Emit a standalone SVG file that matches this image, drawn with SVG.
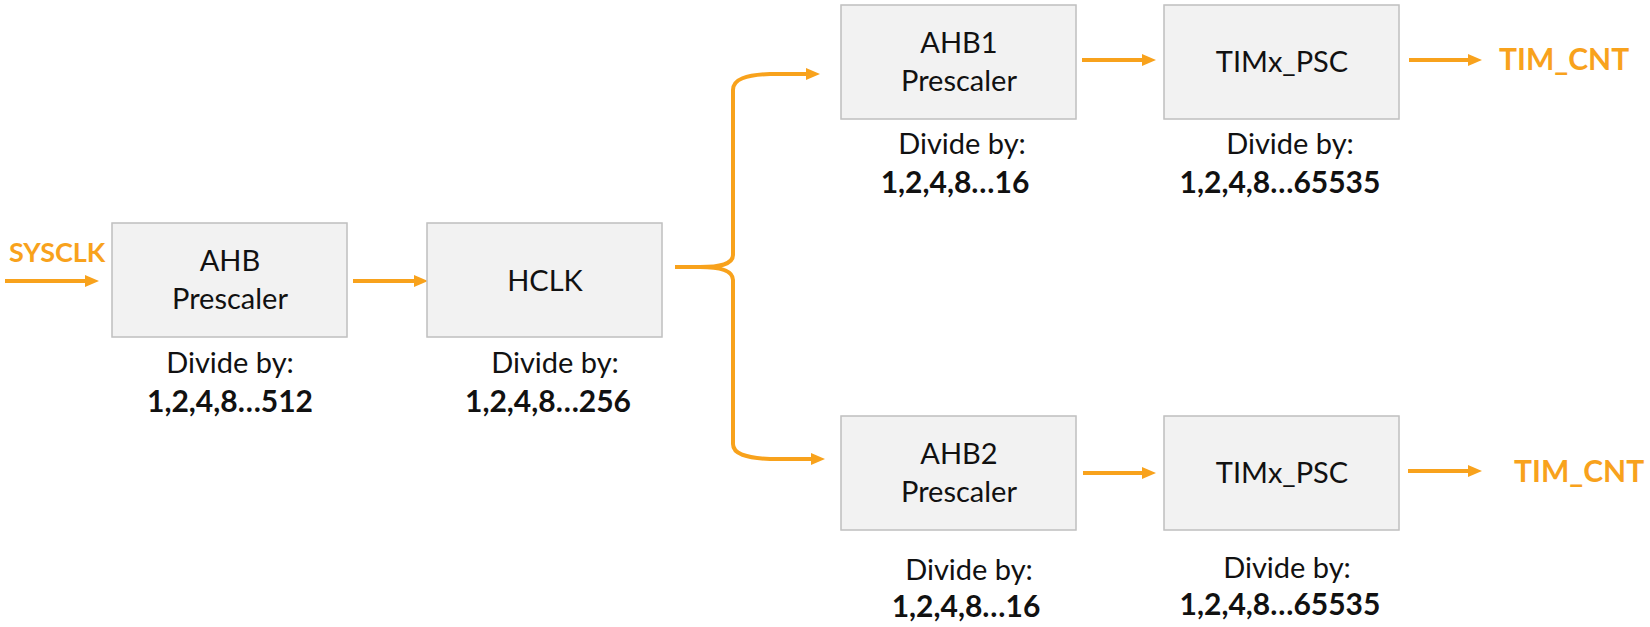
<svg xmlns="http://www.w3.org/2000/svg" width="1650" height="627" viewBox="0 0 1650 627">
<defs>
<style>
.box{fill:#F2F2F2;stroke:#BFBFBF;stroke-width:1.5}
.t{font-family:Lato,"Liberation Sans",sans-serif;font-size:29px;fill:#111;text-anchor:middle}
.b{font-family:Lato,"Liberation Sans",sans-serif;font-size:30px;font-weight:bold;fill:#111;text-anchor:middle}
.o{font-family:Lato,"Liberation Sans",sans-serif;font-size:30px;font-weight:bold;fill:#F8A21C}
.c{fill:none;stroke:#F8A21C;stroke-width:4}
</style>
<marker id="ah" markerUnits="userSpaceOnUse" markerWidth="14" markerHeight="12" refX="2" refY="6" orient="auto">
<path d="M0,0 L14,6 L0,12 z" fill="#F8A21C"/>
</marker>
</defs>
<rect width="1650" height="627" fill="#FFFFFF"/>
<g id="connectors">
<path class="c" d="M5,281 L87,281" marker-end="url(#ah)"/>
<path class="c" d="M353,281 L416,281" marker-end="url(#ah)"/>
<path class="c" d="M675,267 L700,267 C718,267 733,265 733,255 L733,90 C733,79 746,75 770,74 L808,74" marker-end="url(#ah)"/>
<path class="c" d="M700,267 C718,267 733,270 733,280 L733,444 C733,454 746,458 770,459 L813,459" marker-end="url(#ah)"/>
<path class="c" d="M1082,60 L1144,60" marker-end="url(#ah)"/>
<path class="c" d="M1409,60 L1470,60" marker-end="url(#ah)"/>
<path class="c" d="M1083,473 L1144,473" marker-end="url(#ah)"/>
<path class="c" d="M1408,471 L1470,471" marker-end="url(#ah)"/>
</g>
<g id="sysclk"><text class="o" x="9" y="262" style="font-size:27px">SYSCLK</text></g>
<g id="ahb">
<rect class="box" x="112" y="223" width="235" height="114"/>
<text class="t" x="230" y="271">AHB</text>
<text class="t" x="230" y="309">Prescaler</text>
<text class="t" x="230" y="373">Divide by:</text>
<text class="b" x="230" y="412">1,2,4,8…512</text>
</g>
<g id="hclk">
<rect class="box" x="427" y="223" width="235" height="114"/>
<text class="t" x="545" y="291">HCLK</text>
<text class="t" x="555" y="373">Divide by:</text>
<text class="b" x="548" y="412">1,2,4,8…256</text>
</g>
<g id="ahb1">
<rect class="box" x="841" y="5" width="235" height="114"/>
<text class="t" x="959" y="53">AHB1</text>
<text class="t" x="959" y="91">Prescaler</text>
<text class="t" x="962" y="154">Divide by:</text>
<text class="b" x="955" y="193">1,2,4,8…16</text>
</g>
<g id="timx1">
<rect class="box" x="1164" y="5" width="235" height="114"/>
<text class="t" x="1282" y="72">TIMx_PSC</text>
<text class="t" x="1290" y="154">Divide by:</text>
<text class="b" x="1280" y="193">1,2,4,8…65535</text>
</g>
<g id="timcnt1"><text class="o" x="1499" y="70">TIM_CNT</text></g>
<g id="ahb2">
<rect class="box" x="841" y="416" width="235" height="114"/>
<text class="t" x="959" y="464">AHB2</text>
<text class="t" x="959" y="502">Prescaler</text>
<text class="t" x="969" y="580">Divide by:</text>
<text class="b" x="966" y="617">1,2,4,8…16</text>
</g>
<g id="timx2">
<rect class="box" x="1164" y="416" width="235" height="114"/>
<text class="t" x="1282" y="483">TIMx_PSC</text>
<text class="t" x="1287" y="578">Divide by:</text>
<text class="b" x="1280" y="615">1,2,4,8…65535</text>
</g>
<g id="timcnt2"><text class="o" x="1514" y="482">TIM_CNT</text></g>
</svg>
